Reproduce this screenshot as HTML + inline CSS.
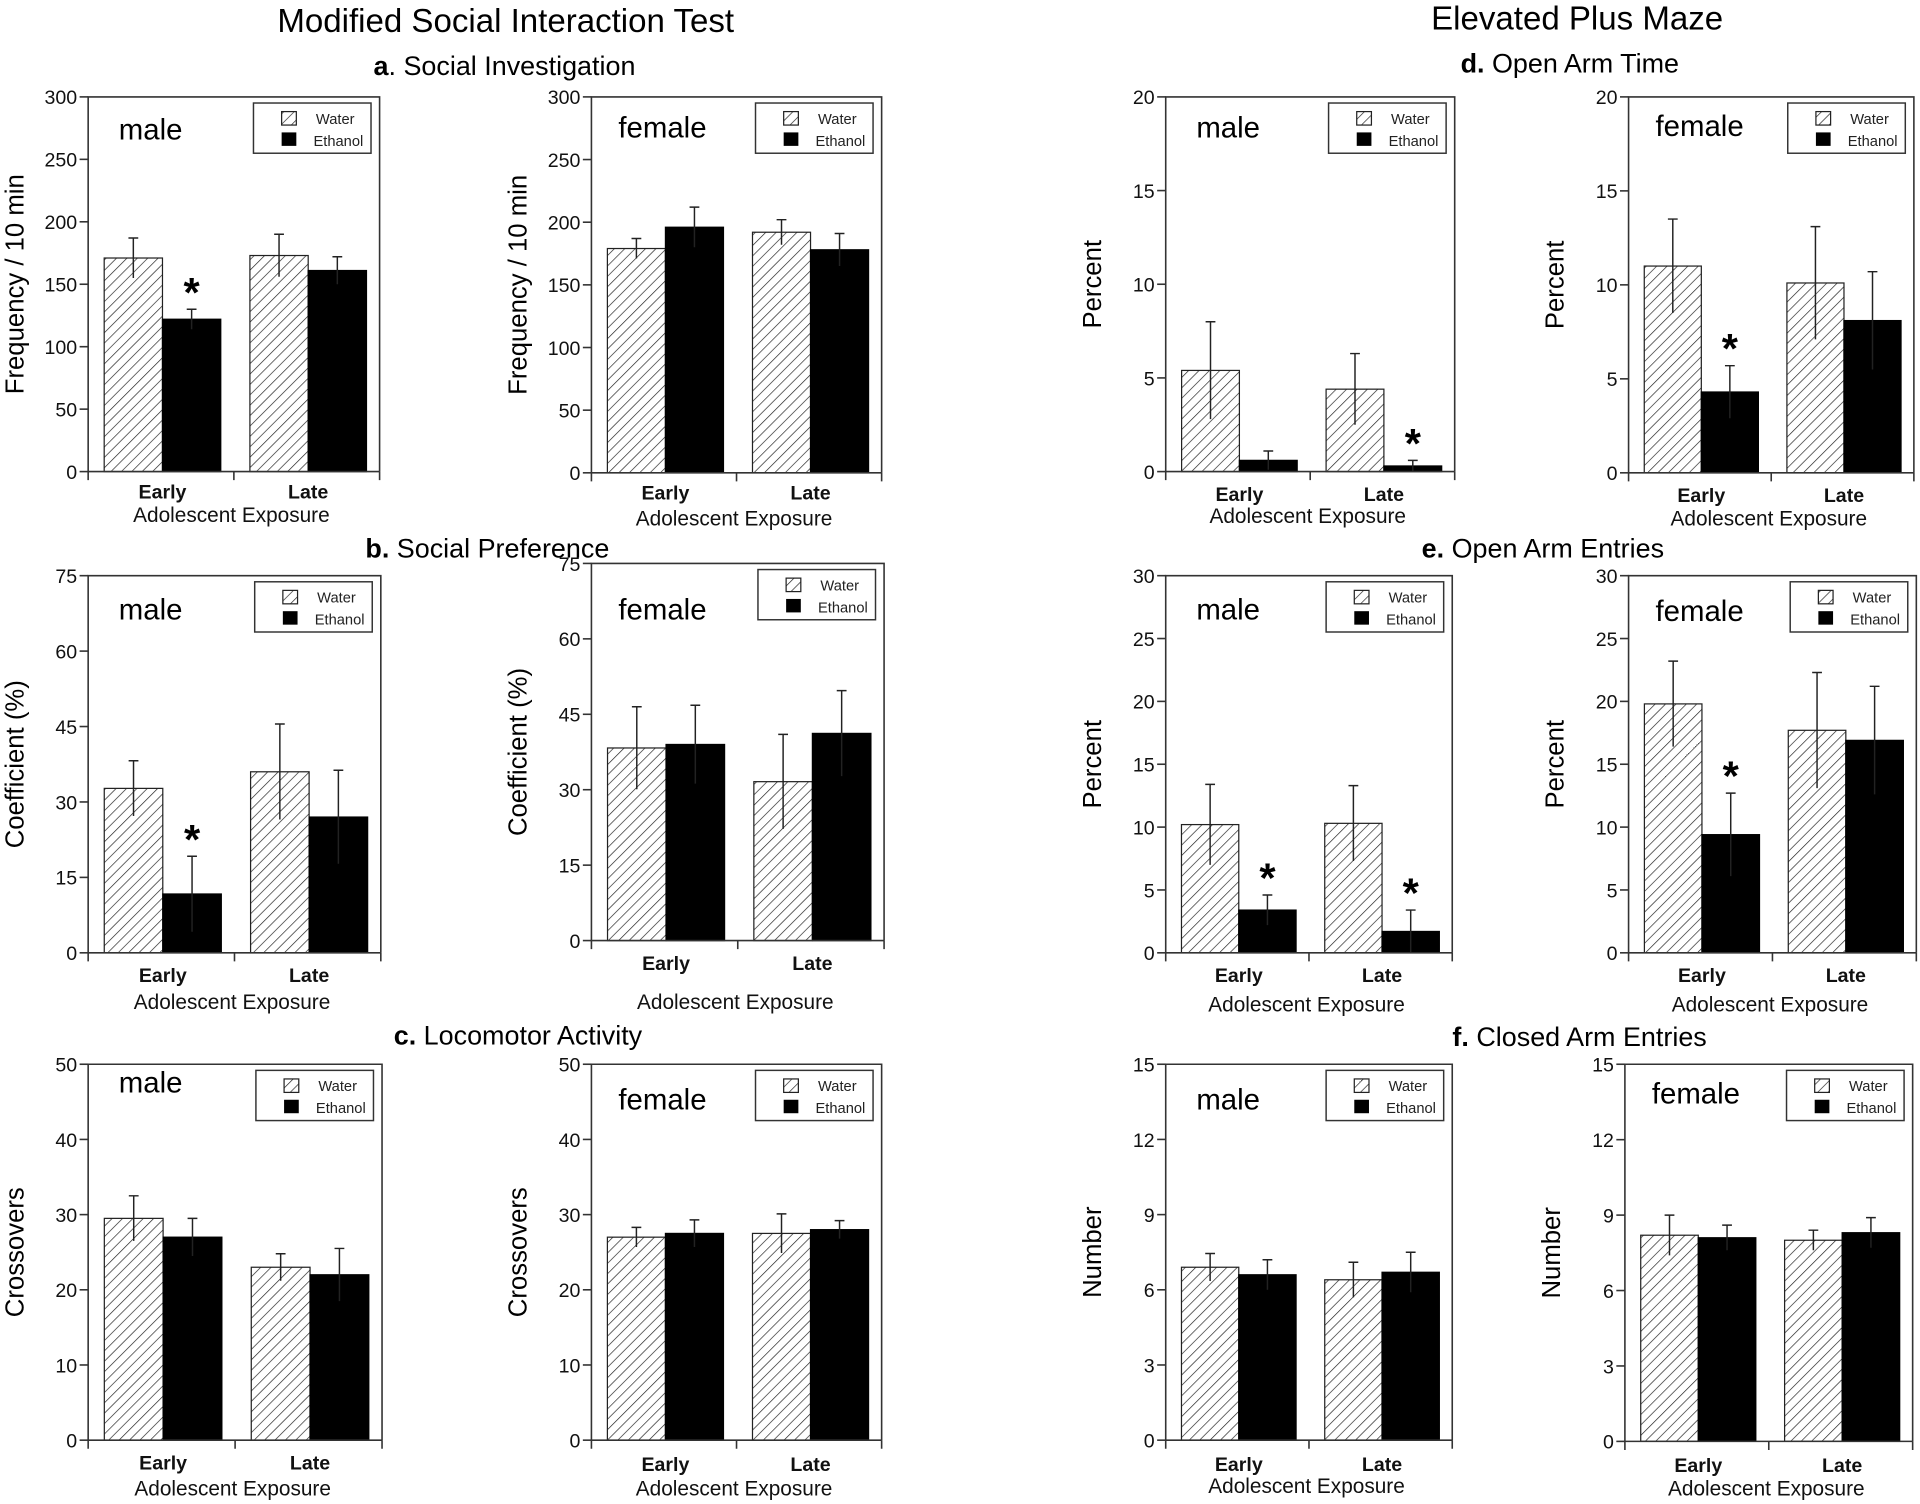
<!DOCTYPE html>
<html><head><meta charset="utf-8"><style>
html,body{margin:0;padding:0;background:#fff;}
svg{display:block;font-family:"Liberation Sans",sans-serif;}
</style></head><body>
<svg id="fig" width="1920" height="1504" viewBox="0 0 1568 1228" xmlns="http://www.w3.org/2000/svg">
<defs>
<pattern id="hatch" patternUnits="userSpaceOnUse" width="6" height="6" patternTransform="rotate(45)">
<rect width="6" height="6" fill="#fff"/><line x1="0" y1="0" x2="0" y2="6" stroke="#222" stroke-width="1.1"/>
</pattern>
</defs>
<text x="413" y="26" font-size="27" text-anchor="middle">Modified Social Interaction Test</text>
<text x="1288" y="24" font-size="27" text-anchor="middle">Elevated Plus Maze</text>
<text x="412" y="61" font-size="22" text-anchor="middle"><tspan font-weight="bold">a</tspan>. Social Investigation</text>
<text x="398" y="455" font-size="22" text-anchor="middle"><tspan font-weight="bold">b.</tspan> Social Preference</text>
<text x="423" y="853" font-size="22" text-anchor="middle"><tspan font-weight="bold">c.</tspan> Locomotor Activity</text>
<text x="1282" y="59" font-size="22" text-anchor="middle"><tspan font-weight="bold">d.</tspan> Open Arm Time</text>
<text x="1260" y="455" font-size="22" text-anchor="middle"><tspan font-weight="bold">e.</tspan> Open Arm Entries</text>
<text x="1290" y="854" font-size="22" text-anchor="middle"><tspan font-weight="bold">f.</tspan> Closed Arm Entries</text>
</svg>
<script>
const categories = ["Early", "Late"];
const aMaleWater = [171, 173], aMaleEth = [122, 161], aMaleWaterErr = [16, 17], aMaleEthErr = [8, 11];
const aFemWater = [179, 192], aFemEth = [196, 178], aFemWaterErr = [8, 10], aFemEthErr = [16, 13];
const bMaleWater = [32.7, 36], bMaleEth = [11.7, 27], bMaleWaterErr = [5.5, 9.5], bMaleEthErr = [7.5, 9.3];
const bFemWater = [38.3, 31.6], bFemEth = [39, 41.2], bFemWaterErr = [8.2, 9.4], bFemEthErr = [7.8, 8.5];
const cMaleWater = [29.5, 23], cMaleEth = [27, 22], cMaleWaterErr = [3, 1.8], cMaleEthErr = [2.5, 3.5];
const cFemWater = [27, 27.5], cFemEth = [27.5, 28], cFemWaterErr = [1.3, 2.6], cFemEthErr = [1.8, 1.2];
const dMaleWater = [5.4, 4.4], dMaleEth = [0.6, 0.3], dMaleWaterErr = [2.6, 1.9], dMaleEthErr = [0.5, 0.3];
const dFemWater = [11, 10.1], dFemEth = [4.3, 8.1], dFemWaterErr = [2.5, 3], dFemEthErr = [1.4, 2.6];
const eMaleWater = [10.2, 10.3], eMaleEth = [3.4, 1.7], eMaleWaterErr = [3.2, 3], eMaleEthErr = [1.2, 1.7];
const eFemWater = [19.8, 17.7], eFemEth = [9.4, 16.9], eFemWaterErr = [3.4, 4.6], eFemEthErr = [3.3, 4.3];
const fMaleWater = [6.9, 6.4], fMaleEth = [6.6, 6.7], fMaleWaterErr = [0.55, 0.7], fMaleEthErr = [0.6, 0.8];
const fFemWater = [8.2, 8.0], fFemEth = [8.1, 8.3], fFemWaterErr = [0.8, 0.4], fFemEthErr = [0.5, 0.6];
const yMaxA = 300, yStepA = 50, yMaxB = 75, yStepB = 15, yMaxC = 50, yStepC = 10;
const yMaxD = 20, yStepD = 5, yMaxE = 30, yStepE = 5, yMaxF = 15, yStepF = 3;
const aMaleStars = [false, true, false, false], aFemStars = [false, false, false, false];
const bMaleStars = [false, true, false, false], bFemStars = [false, false, false, false];
const dMaleStars = [false, false, false, true], dFemStars = [false, true, false, false];
const eMaleStars = [false, true, false, true], eFemStars = [false, true, false, false];
const noStars = [false, false, false, false];

const svg = document.getElementById('fig');
const NS = 'http://www.w3.org/2000/svg';
function mk(tag, attrs, parent) {
  const e = document.createElementNS(NS, tag);
  for (const k in attrs) e.setAttribute(k, attrs[k]);
  (parent || svg).appendChild(e);
  return e;
}
function txt(s, attrs, parent) { const t = mk('text', attrs, parent); t.textContent = s; return t; }

function panel(id, L, R, T, B, ymax, ystep, ylabel, gender, genderY, water, eth, werr, eerr, stars, catY, expY) {
  const g = mk('g', {});
  
  
  const y = v => B - (v / ymax) * (B - T);
  const W = R - L;
  const centers = [L + W * 0.255, L + W * 0.755];
  const bw = W * 0.2;
  for (let i = 0; i < categories.length; i++) {
    const xw = centers[i] - bw, xe = centers[i];
    const rw = mk('rect', {x: xw, y: y(water[i]), width: bw, height: B - y(water[i]), fill: 'url(#hatch)', stroke: '#222', 'stroke-width': 1}, g);
    
    
    const re = mk('rect', {x: xe, y: y(eth[i]), width: bw, height: B - y(eth[i]), fill: '#000', stroke: '#000', 'stroke-width': 1}, g);
    
    
    const pairs = [[xw + bw / 2, water[i], werr[i]], [xe + bw / 2, eth[i], eerr[i]]];
    pairs.forEach((p, j) => {
      const eb = mk('path', {d: `M${p[0]},${y(p[1] - p[2])}V${y(p[1] + p[2])}M${p[0] - 4},${y(p[1] + p[2])}H${p[0] + 4}`, stroke: '#222', 'stroke-width': 1.2, fill: 'none'}, g);
      
      
      if (stars[i * 2 + j]) {
        const st = txt('*', {x: p[0], y: y(p[1] + p[2]) - 2, 'font-size': 34, 'font-weight': 'bold', 'text-anchor': 'middle'}, g);
        
        
      }
    });
  }
  const fr = mk('path', {d: `M${L},${B}V${T}H${R}V${B}`, fill: 'none', stroke: '#333', 'stroke-width': 1.3}, g);
  
  
  const xa = mk('path', {d: `M${L},${B}H${R}M${L},${B}v7M${(L + R) / 2},${B}v7M${R},${B}v7`, fill: 'none', stroke: '#333', 'stroke-width': 1.3}, g);
  
  
  for (let v = 0; v <= ymax + 1e-9; v += ystep) {
    const tk = mk('line', {x1: L - 7, x2: L, y1: y(v), y2: y(v), stroke: '#333', 'stroke-width': 1.3}, g);
    
    
    const tl = txt(String(v), {x: L - 9, y: y(v) + 6, 'font-size': 16, 'text-anchor': 'end', fill: '#111'}, g);
    
    
  }
  const yt = txt(ylabel, {x: 0, y: 0, 'font-size': 21, 'text-anchor': 'middle', transform: `translate(${L - 53},${(T + B) / 2}) rotate(-90)`}, g);
  
  
  categories.forEach((c, i) => {
    const cl = txt(c, {x: centers[i], y: catY, 'font-size': 16, 'font-weight': 'bold', 'text-anchor': 'middle', fill: '#111'}, g);
    
    
  });
  const xt = txt('Adolescent Exposure', {x: (L + R) / 2 - 2, y: expY, 'font-size': 17, 'text-anchor': 'middle', fill: '#111'}, g);
  
  
  const gl = txt(gender, {x: L + (gender === 'male' ? 25 : 22), y: genderY, 'font-size': 24, fill: '#000'}, g);
  
  
  const lg = mk('g', {}, g);
  
  
  const lx = R - 103, ly = T + 5;
  mk('rect', {x: lx, y: ly, width: 96, height: 41, fill: '#fff', stroke: '#333', 'stroke-width': 1.2}, lg);
  const e1 = mk('rect', {x: lx + 23, y: ly + 7, width: 12, height: 11, fill: 'url(#hatch)', stroke: '#222', 'stroke-width': 1}, lg);
  
  
  const t1 = txt('Water', {x: lx + 51, y: ly + 17, 'font-size': 12, fill: '#222'}, lg);
  
  
  const e2 = mk('rect', {x: lx + 23, y: ly + 24, width: 12, height: 11, fill: '#000'}, lg);
  
  
  const t2 = txt('Ethanol', {x: lx + 49, y: ly + 35, 'font-size': 12, fill: '#222'}, lg);
  
  
}

panel('panel-a-male', 72, 310, 79, 385, yMaxA, yStepA, 'Frequency / 10 min', 'male', 114, aMaleWater, aMaleEth, aMaleWaterErr, aMaleEthErr, aMaleStars, 407, 426);
panel('panel-a-female', 483, 720, 79, 386, yMaxA, yStepA, 'Frequency / 10 min', 'female', 112, aFemWater, aFemEth, aFemWaterErr, aFemEthErr, aFemStars, 408, 429);
panel('panel-b-male', 72, 311, 470, 778, yMaxB, yStepB, 'Coefficient (%)', 'male', 506, bMaleWater, bMaleEth, bMaleWaterErr, bMaleEthErr, bMaleStars, 802, 824);
panel('panel-b-female', 483, 722, 460, 768, yMaxB, yStepB, 'Coefficient (%)', 'female', 506, bFemWater, bFemEth, bFemWaterErr, bFemEthErr, bFemStars, 792, 824);
panel('panel-c-male', 72, 312, 869, 1176, yMaxC, yStepC, 'Crossovers', 'male', 892, cMaleWater, cMaleEth, cMaleWaterErr, cMaleEthErr, noStars, 1200, 1221);
panel('panel-c-female', 483, 720, 869, 1176, yMaxC, yStepC, 'Crossovers', 'female', 906, cFemWater, cFemEth, cFemWaterErr, cFemEthErr, noStars, 1201, 1221);
panel('panel-d-male', 952, 1188, 79, 385, yMaxD, yStepD, 'Percent', 'male', 112, dMaleWater, dMaleEth, dMaleWaterErr, dMaleEthErr, dMaleStars, 409, 427);
panel('panel-d-female', 1330, 1563, 79, 386, yMaxD, yStepD, 'Percent', 'female', 111, dFemWater, dFemEth, dFemWaterErr, dFemEthErr, dFemStars, 410, 429);
panel('panel-e-male', 952, 1186, 470, 778, yMaxE, yStepE, 'Percent', 'male', 506, eMaleWater, eMaleEth, eMaleWaterErr, eMaleEthErr, eMaleStars, 802, 826);
panel('panel-e-female', 1330, 1565, 470, 778, yMaxE, yStepE, 'Percent', 'female', 507, eFemWater, eFemEth, eFemWaterErr, eFemEthErr, eFemStars, 802, 826);
panel('panel-f-male', 952, 1186, 869, 1176, yMaxF, yStepF, 'Number', 'male', 906, fMaleWater, fMaleEth, fMaleWaterErr, fMaleEthErr, noStars, 1201, 1219);
panel('panel-f-female', 1327, 1562, 869, 1177, yMaxF, yStepF, 'Number', 'female', 901, fFemWater, fFemEth, fFemWaterErr, fFemEthErr, noStars, 1202, 1221);
</script>
</body></html>
